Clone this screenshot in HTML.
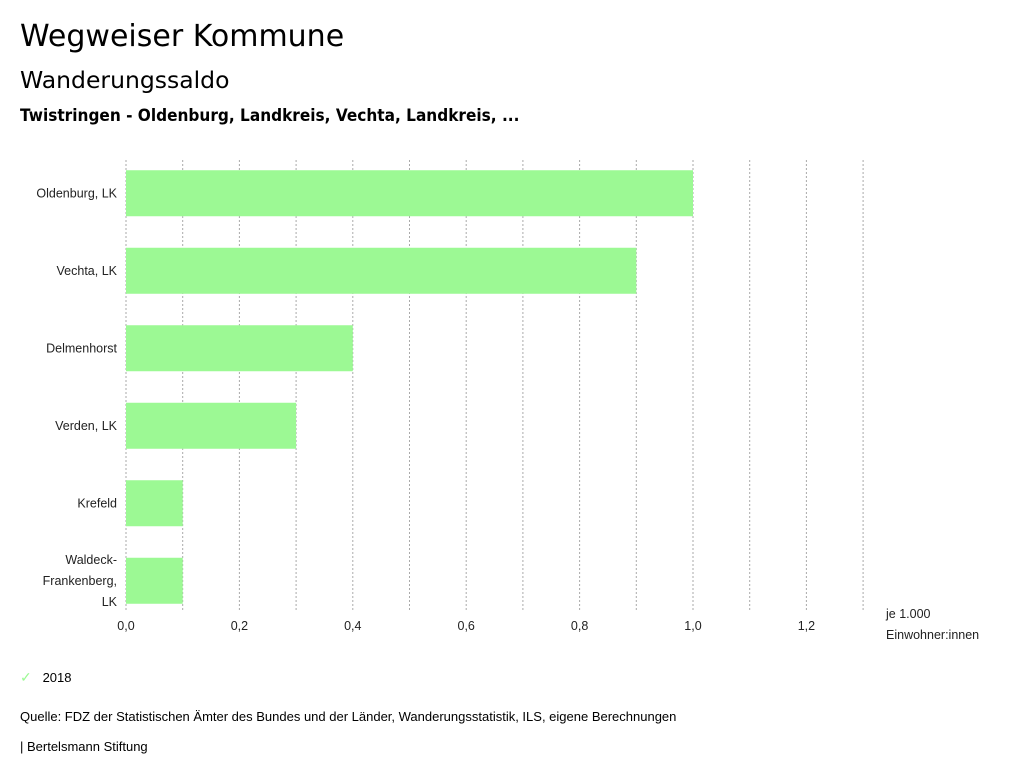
<!DOCTYPE html>
<html><head><meta charset="utf-8">
<style>
body{margin:0;width:1024px;height:780px;background:#fff;font-family:"Liberation Sans",sans-serif;color:#000;overflow:hidden;position:relative}
.t{position:absolute;white-space:nowrap}
</style></head><body>
<div class="t" style="left:20px;top:19px;font-size:30px;font-family:'DejaVu Sans',sans-serif">Wegweiser Kommune</div>
<div class="t" style="left:20px;top:66px;font-size:23.5px;font-family:'DejaVu Sans',sans-serif">Wanderungssaldo</div>
<div class="t" style="left:20px;top:106px;font-size:16.5px;font-weight:bold;font-family:'DejaVu Sans',sans-serif;transform:scaleX(0.93);transform-origin:left">Twistringen - Oldenburg, Landkreis, Vechta, Landkreis, ...</div>
<svg id="chart" width="1024" height="700" style="position:absolute;left:0;top:0" font-family="Liberation Sans, sans-serif" font-size="12.5"></svg>
<div class="t" style="left:20px;top:669px;font-size:13px"><span style="color:#9cf994;font-size:14px">✓</span>&nbsp;&nbsp;&nbsp;2018</div>
<div class="t" style="left:20px;top:709px;font-size:13px">Quelle: FDZ der Statistischen Ämter des Bundes und der Länder, Wanderungsstatistik, ILS, eigene Berechnungen</div>
<div class="t" style="left:20px;top:739px;font-size:13px">| Bertelsmann Stiftung</div>
<script>
const categories=[["Oldenburg, LK"],["Vechta, LK"],["Delmenhorst"],["Verden, LK"],["Krefeld"],["Waldeck-","Frankenberg,","LK"]];
const values2018=[1.0,0.9,0.4,0.3,0.1,0.1];
const tickValues=[0,0.2,0.4,0.6,0.8,1.0,1.2];
const tickLabels=["0,0","0,2","0,4","0,6","0,8","1,0","1,2"];
const gridValues=[0,0.1,0.2,0.3,0.4,0.5,0.6,0.7,0.8,0.9,1.0,1.1,1.2,1.3];
const svg=document.getElementById('chart');
const NS='http://www.w3.org/2000/svg';
const x0=126,pxPer=567,plotTop=154.5,band=77.5;
const xs=v=>x0+v*pxPer;
function mk(tag,attrs){const e=document.createElementNS(NS,tag);for(const k in attrs)e.setAttribute(k,attrs[k]);svg.appendChild(e);return e;}
gridValues.forEach(v=>{
  const l=mk('line',{x1:xs(v),x2:xs(v),y1:160,y2:612,stroke:'#aaa','stroke-dasharray':'2,2','stroke-width':1});
  
  
});
values2018.forEach((v,i)=>{
  const cy=plotTop+band*(i+0.5);
  const r=mk('rect',{x:xs(0),y:cy-23,width:xs(v)-xs(0),height:46,fill:'#9cf994'});
  
  
  const lines=categories[i];
  const t=mk('text',{x:117,'text-anchor':'end',fill:'#222'});
  
  
  lines.forEach((s,j)=>{const ts=document.createElementNS(NS,'tspan');ts.setAttribute('x',117);ts.setAttribute('y',cy+4+(j-(lines.length-1)/2)*21);ts.textContent=s;t.appendChild(ts);});
});
tickValues.forEach((v,i)=>{
  const t=mk('text',{x:xs(v),y:630,'text-anchor':'middle',fill:'#222'});
  t.textContent=tickLabels[i];
  
  
});
const u1=mk('text',{x:886,y:618,fill:'#222'});u1.textContent='je 1.000';


const u2=mk('text',{x:886,y:639,fill:'#222'});u2.textContent='Einwohner:innen';


</script>
</body></html>
